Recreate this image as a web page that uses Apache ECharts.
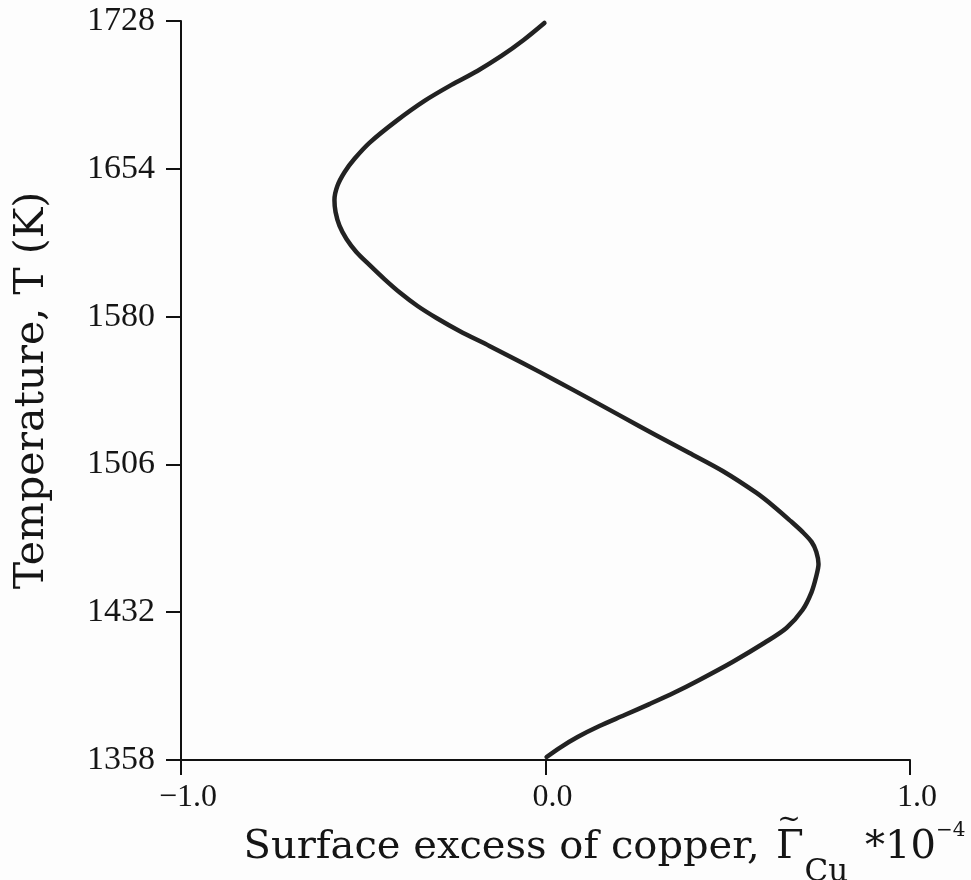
<!DOCTYPE html>
<html>
<head>
<meta charset="utf-8">
<script src="https://cdn.jsdelivr.net/npm/echarts@6/dist/echarts.min.js"></script>
<style>
html,body{margin:0;padding:0;background:#fdfdfd;}
#chart{width:971px;height:880px;}
</style>
</head>
<body>
<div id="chart"></div>
<script>
// Temperature (K) along the curve
var temperatureK = [1359.5, 1364.0, 1369.5, 1375.0, 1380.5, 1386.0, 1391.8, 1398.1, 1407.1, 1416.7, 1424.1, 1433.1, 1442.1, 1450.1, 1456.1, 1462.2, 1467.2, 1472.2, 1477.7, 1484.7, 1491.7, 1502.7, 1511.7, 1520.7, 1529.8, 1538.8, 1547.8, 1556.8, 1565.3, 1572.8, 1579.3, 1585.3, 1591.8, 1598.8, 1605.9, 1612.4, 1618.9, 1625.4, 1632.4, 1638.4, 1645.4, 1652.4, 1659.0, 1667.0, 1678.0, 1688.0, 1696.0, 1703.0, 1710.5, 1718.5, 1727.0];
// Surface excess of copper (x 10^-4)
var surfaceExcess = [0.003, 0.038, 0.088, 0.148, 0.217, 0.285, 0.354, 0.422, 0.513, 0.601, 0.661, 0.705, 0.730, 0.743, 0.749, 0.743, 0.730, 0.705, 0.672, 0.628, 0.579, 0.486, 0.395, 0.302, 0.211, 0.121, 0.030, -0.063, -0.154, -0.236, -0.299, -0.351, -0.398, -0.442, -0.483, -0.519, -0.546, -0.565, -0.576, -0.579, -0.571, -0.551, -0.524, -0.483, -0.409, -0.332, -0.258, -0.187, -0.121, -0.060, -0.003];
var yTicks = [1358, 1432, 1506, 1580, 1654, 1728];
var xTicks = [-1.0, 0.0, 1.0];

var points = temperatureK.map(function (t, i) { return [surfaceExcess[i], t]; });

var chart = echarts.init(document.getElementById('chart'));
var serif = 'Liberation Serif';
var ink = '#151515';
chart.setOption({
  backgroundColor: '#fdfdfd',
  animation: false,
  grid: { left: 181, right: 61, top: 21, bottom: 120, containLabel: false, outerBoundsMode: 'none' },
  xAxis: {
    type: 'value',
    min: xTicks[0], max: xTicks[xTicks.length - 1], interval: 1,
    splitLine: { show: false },
    axisLine: { show: true, onZero: false, lineStyle: { color: '#111', width: 2 } },
    axisTick: { show: true, inside: false, length: 15, lineStyle: { color: '#111', width: 2 } },
    axisLabel: {
      color: ink, fontFamily: serif, fontSize: 32, margin: 22,
      padding: [0, 0, 0, 14],
      formatter: function (v) { var s = Math.abs(v).toFixed(1); return v < 0 ? '\u2212' + s : s; }
    },
    name: '{m|Surface excess of copper, }{t|~}{g|\u0393}{sub|Cu}{m2|*10}{sup|\u22124}',
    nameLocation: 'middle',
    nameGap: 43,
    nameMoveOverlap: false,
    nameTextStyle: {
      color: ink, fontFamily: 'DejaVu Serif', fontSize: 40,
      padding: [0, 0, 0, 118],
      rich: {
        m: { fontFamily: 'DejaVu Serif', fontSize: 40, color: ink, lineHeight: 90, verticalAlign: 'middle', padding: [0, 16, 0, 0] },
        t: { fontFamily: 'DejaVu Serif', fontSize: 28, color: ink, lineHeight: 16, verticalAlign: 'top', width: 1, padding: [4, 0, 0, 0] },
        g: { fontFamily: 'DejaVu Serif', fontSize: 40, color: ink, lineHeight: 90, verticalAlign: 'middle', width: 1 },
        sub: { fontFamily: 'DejaVu Serif', fontSize: 31, color: ink, lineHeight: 31, verticalAlign: 'bottom', padding: [0, 0, 5, 14] },
        m2: { fontFamily: 'DejaVu Serif', fontSize: 40, color: ink, lineHeight: 90, verticalAlign: 'middle', padding: [0, 0, 0, 17] },
        sup: { fontFamily: 'DejaVu Serif', fontSize: 20, color: ink, lineHeight: 24, verticalAlign: 'top', padding: [18, 0, 0, 0] }
      }
    }
  },
  yAxis: {
    type: 'value',
    min: yTicks[0], max: yTicks[yTicks.length - 1], interval: 74,
    splitLine: { show: false },
    axisLine: { show: true, onZero: false, lineStyle: { color: '#111', width: 2 } },
    axisTick: { show: true, inside: false, length: 15, lineStyle: { color: '#111', width: 2 } },
    axisLabel: {
      color: ink, fontFamily: serif, fontSize: 34, margin: 26,
      formatter: function (v) { return String(Math.round(v)); }
    },
    name: 'Temperature, T (K)',
    nameLocation: 'middle',
    nameGap: 128,
    nameRotate: 90,
    nameTextStyle: { color: ink, fontFamily: 'DejaVu Serif', fontSize: 41 }
  },
  series: [{
    type: 'line',
    data: points,
    smooth: 0.3,
    showSymbol: false,
    symbol: 'none',
    lineStyle: { color: '#222', width: 4.5, cap: 'round', join: 'round' },
    clip: false
  }]
});
</script>
</body>
</html>
